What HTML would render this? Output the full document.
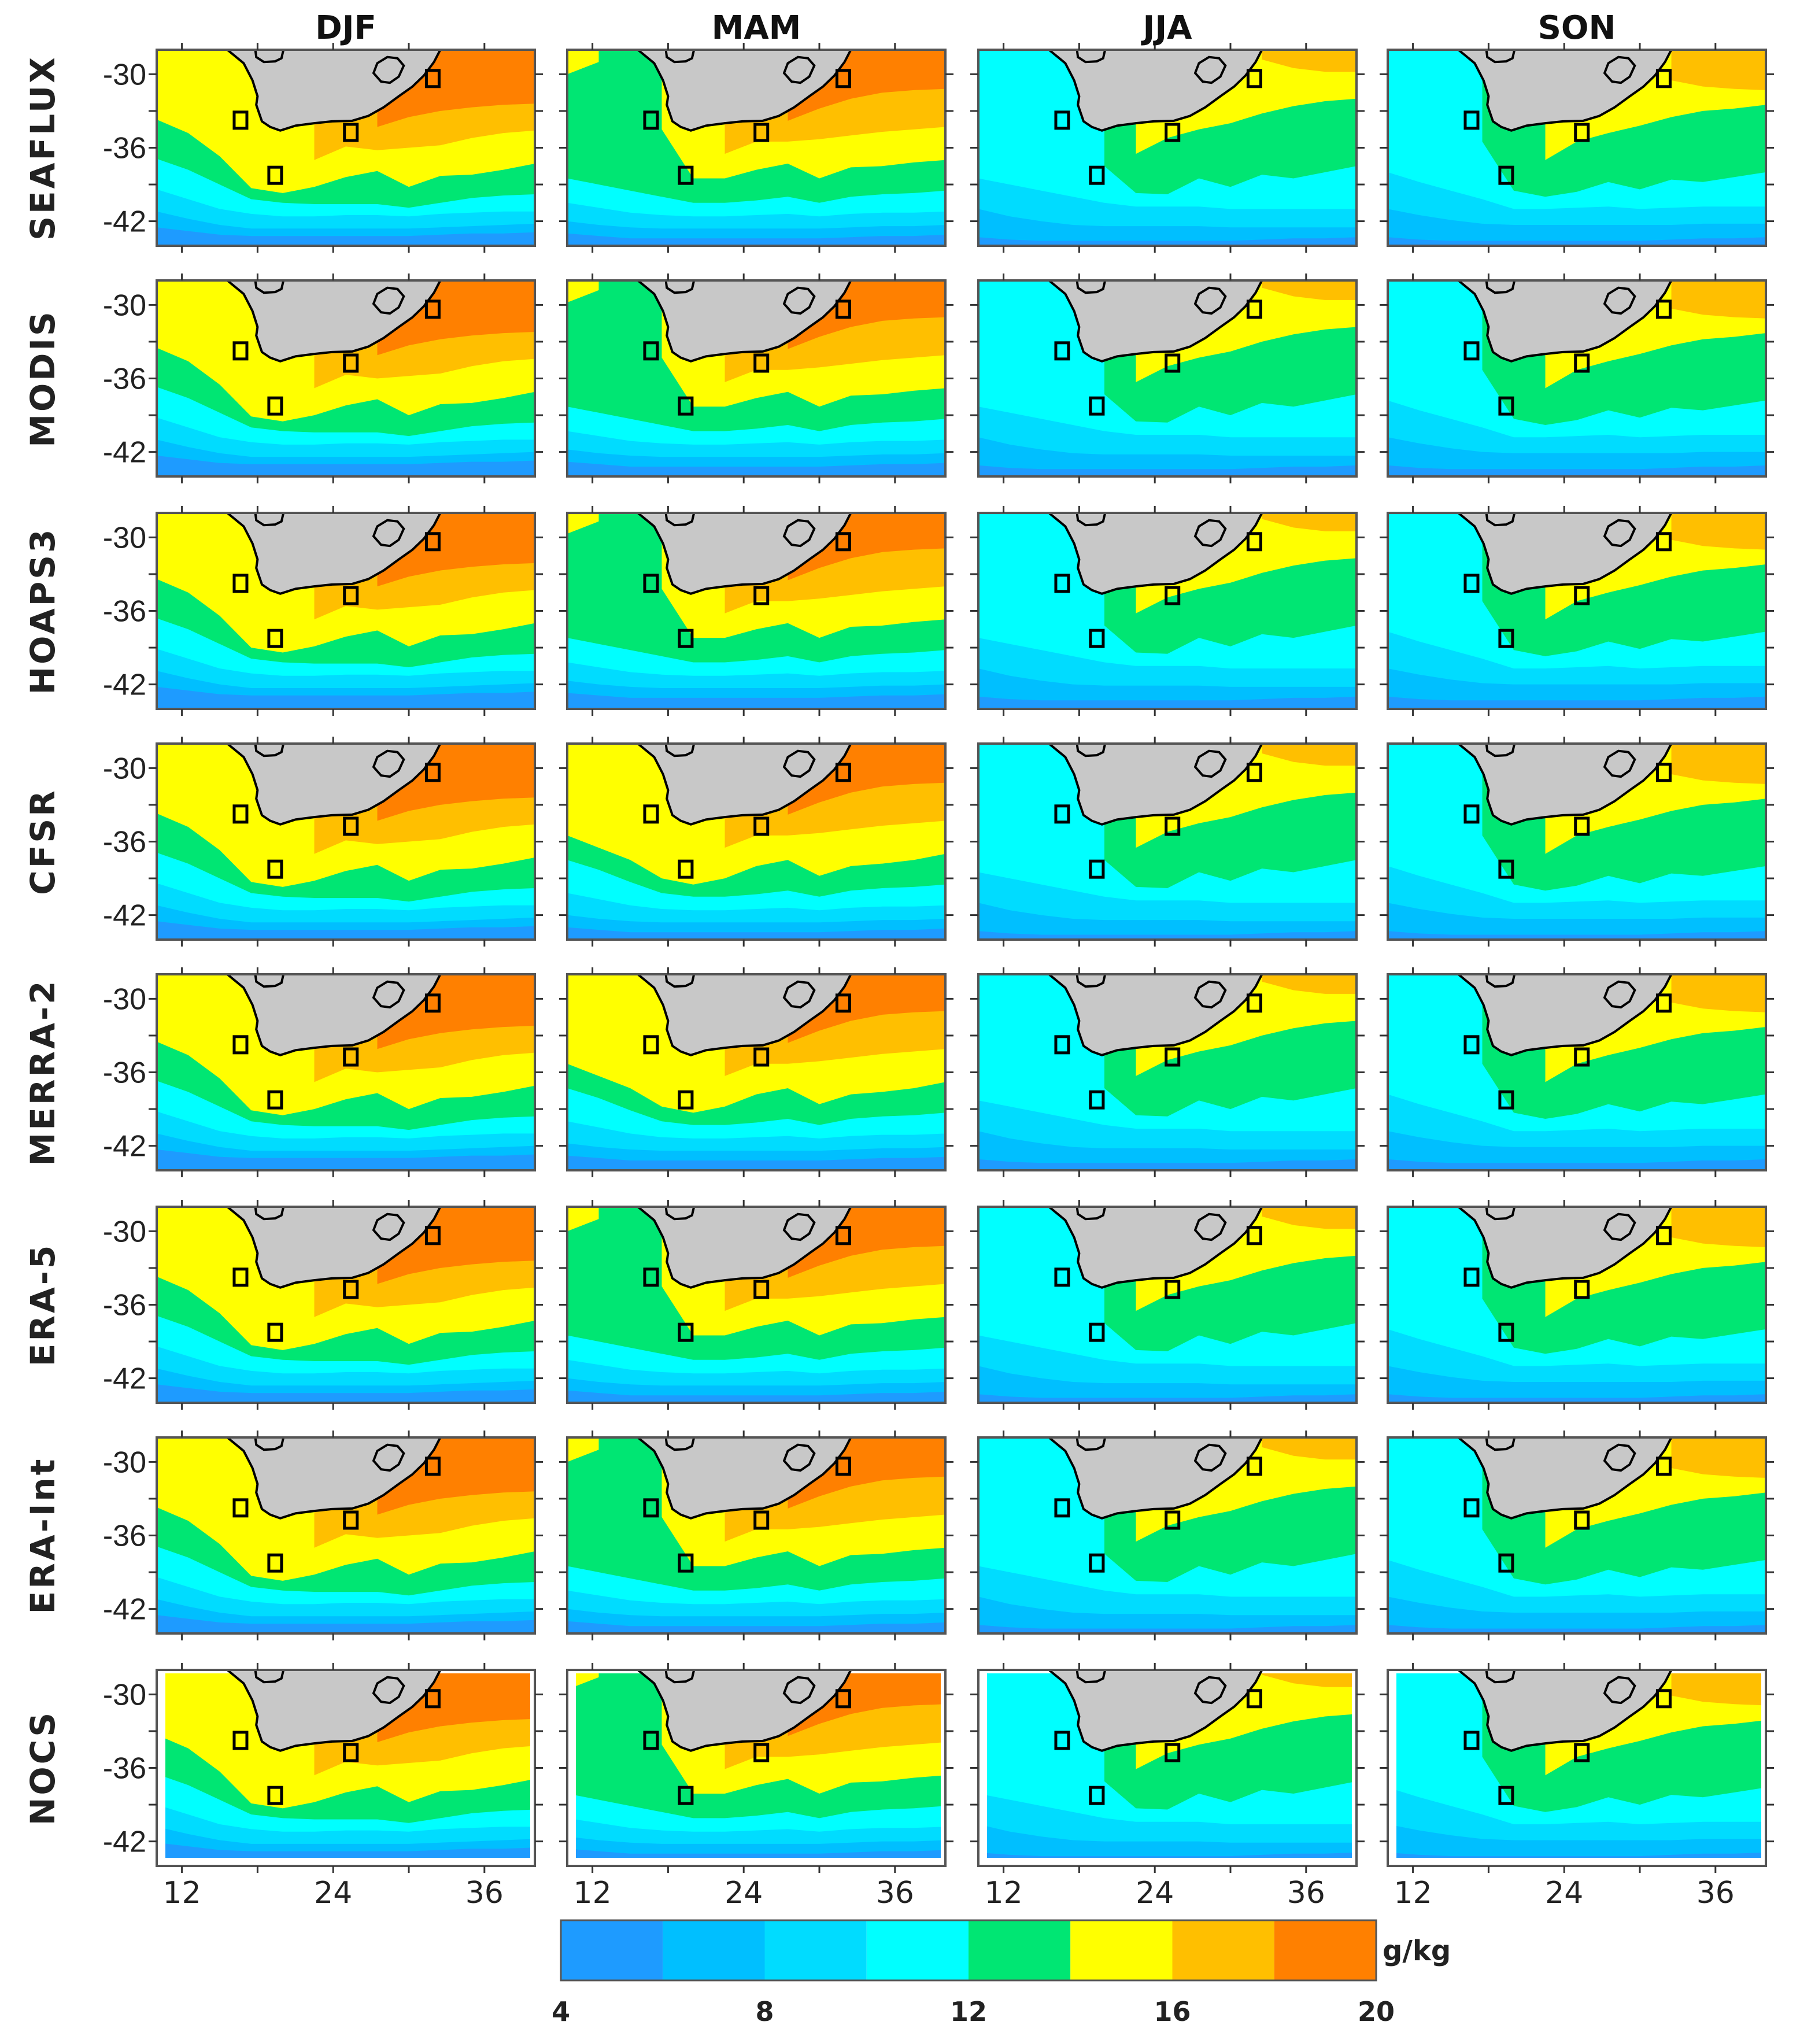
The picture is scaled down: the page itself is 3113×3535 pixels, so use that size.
<!DOCTYPE html>
<html><head><meta charset="utf-8"><style>
html,body{margin:0;padding:0;background:#fff;}
svg{display:block;}
</style></head><body>
<svg id="fig" xmlns="http://www.w3.org/2000/svg" width="3113" height="3535" viewBox="0 0 3113 3535">
<rect width="3113" height="3535" fill="#fff"/>
<defs id="defs"></defs>
<g id="panels"></g>
<g id="labels"></g>
<g id="cbar"></g>
</svg>
<script>
// ---- data ----
const seasons = ["DJF","MAM","JJA","SON"];
const datasets = ["SEAFLUX","MODIS","HOAPS3","CFSR","MERRA-2","ERA-5","ERA-Int","NOCS"];
const lonSamples = [10,12.5,15,17.5,20,22.5,25,27.5,30,32.5,35,37.5,40];
const levels = [6,8,10,12,14,16,18];
const cbarTicks = [4,8,12,16,20];
const cbarLevels = [4,6,8,10,12,14,16,18,20];
// boundary latitudes per level (north of line >= level); -27 = level absent
const djfB = [
 [-42.5,-42.8,-43.1,-43.2,-43.2,-43.2,-43.2,-43.2,-43.2,-43.1,-43.0,-43.0,-42.9],
 [-41.2,-41.8,-42.3,-42.6,-42.6,-42.6,-42.6,-42.6,-42.6,-42.5,-42.4,-42.3,-42.2],
 [-39.4,-40.2,-41.0,-41.4,-41.6,-41.6,-41.5,-41.5,-41.6,-41.4,-41.3,-41.2,-41.2],
 [-36.9,-37.8,-39.0,-40.2,-40.5,-40.6,-40.6,-40.6,-40.9,-40.5,-40.1,-39.9,-39.8],
 [-33.7,-34.8,-36.7,-39.3,-39.7,-39.2,-38.4,-37.9,-39.2,-38.3,-38.2,-37.8,-37.3],
 [-27,-27,-27,-27,-27,-37,-35.9,-36.2,-36,-35.8,-35.2,-34.8,-34.6],
 [-27,-27,-27,-27,-27,-27,-27,-34.3,-33.5,-33,-32.7,-32.5,-32.4]];
const mamB = [
 [-43.0,-43.2,-43.4,-43.4,-43.4,-43.4,-43.4,-43.4,-43.4,-43.3,-43.2,-43.2,-43.1],
 [-42.0,-42.3,-42.5,-42.6,-42.6,-42.6,-42.6,-42.6,-42.6,-42.5,-42.4,-42.4,-42.3],
 [-40.5,-40.9,-41.3,-41.5,-41.6,-41.6,-41.5,-41.4,-41.6,-41.4,-41.3,-41.3,-41.2],
 [-38.5,-39.0,-39.5,-40.0,-40.5,-40.5,-40.3,-40.0,-40.5,-40.0,-39.8,-39.7,-39.5],
 [-30,-29,-27,-34.5,-38.5,-38.5,-37.8,-37.3,-38.5,-37.6,-37.5,-37.2,-37],
 [-27,-27,-27,-27,-27,-36.5,-35.5,-35.5,-35.3,-35,-34.7,-34.5,-34.3],
 [-27,-27,-27,-27,-27,-27,-27,-33.8,-32.8,-32,-31.5,-31.3,-31.2]];
const mamAltB = [
 [-43.0,-43.2,-43.4,-43.4,-43.4,-43.4,-43.4,-43.4,-43.4,-43.3,-43.2,-43.2,-43.1],
 [-42.0,-42.3,-42.5,-42.6,-42.6,-42.6,-42.6,-42.6,-42.6,-42.5,-42.4,-42.4,-42.3],
 [-40.2,-40.7,-41.2,-41.5,-41.6,-41.6,-41.5,-41.4,-41.6,-41.4,-41.3,-41.3,-41.2],
 [-37.5,-38.3,-39.3,-40.2,-40.5,-40.5,-40.3,-40.0,-40.5,-40.0,-39.8,-39.7,-39.5],
 [-35.5,-36.5,-37.5,-39,-39.5,-39,-38,-37.5,-38.8,-38,-37.8,-37.5,-37],
 [-27,-27,-27,-27,-27,-36.5,-35.5,-35.5,-35.3,-35,-34.7,-34.5,-34.3],
 [-27,-27,-27,-27,-27,-27,-27,-33.8,-32.8,-32,-31.5,-31.3,-31.2]];
const jjaB = [
 [-43.3,-43.5,-43.6,-43.6,-43.6,-43.6,-43.6,-43.6,-43.6,-43.5,-43.4,-43.4,-43.3],
 [-41.0,-41.6,-42.0,-42.3,-42.4,-42.4,-42.4,-42.4,-42.5,-42.5,-42.5,-42.5,-42.5],
 [-38.5,-39.0,-39.5,-40.0,-40.5,-40.8,-40.8,-40.8,-41.0,-41.0,-41.0,-41.0,-41.0],
 [-27,-27,-27,-27,-37.5,-39.7,-39.8,-38.5,-39.2,-38.2,-38.5,-38,-37.5],
 [-27,-27,-27,-27,-27,-36.5,-35.2,-34.5,-34,-33.2,-32.6,-32.2,-32],
 [-27,-27,-27,-27,-27,-27,-27,-27,-27,-28.8,-29.5,-29.8,-29.8],
 [-27,-27,-27,-27,-27,-27,-27,-27,-27,-27,-27,-27,-27]];
const sonB = [
 [-43.3,-43.5,-43.6,-43.6,-43.6,-43.6,-43.6,-43.6,-43.6,-43.5,-43.4,-43.4,-43.3],
 [-41.0,-41.5,-41.9,-42.2,-42.3,-42.3,-42.3,-42.3,-42.3,-42.3,-42.2,-42.2,-42.2],
 [-38.0,-38.8,-39.5,-40.2,-41.0,-41.0,-40.9,-40.8,-41.0,-40.9,-40.8,-40.8,-40.8],
 [-27,-27,-27,-35.5,-39.5,-40,-39.6,-38.8,-39.4,-38.6,-38.8,-38.4,-38],
 [-27,-27,-27,-27,-27,-37,-35.5,-34.8,-34.2,-33.5,-33,-32.8,-32.5],
 [-27,-27,-27,-27,-27,-27,-27,-27,-27,-30.5,-31,-31.2,-31.3],
 [-27,-27,-27,-27,-27,-27,-27,-27,-27,-27,-27,-27,-27]];
const seasonData = [djfB, mamB, jjaB, sonB];
const mamAltRows = [3,4];
const rowShift = [0, 0.2, 0.3, 0, 0.2, 0, 0, 0.4];
const xTicks = [12,18,24,30,36];
const xTickLabels = [12,24,36];
const yTicks = [-30,-33,-36,-39,-42];
const yTickLabels = [-30,-36,-42];
const coast = [[15.6,-27.5],[15.6,-28],[16.9,-29.1],[17.6,-30.5],[18,-31.8],[17.9,-32.5],[18.35,-33.85],[19.0,-34.3],[19.8,-34.6],[21,-34.2],[22.5,-34.0],[23.9,-33.85],[25.5,-33.8],[26.8,-33.4],[28,-32.7],[29.2,-31.8],[30.3,-31],[31.2,-30.1],[32.0,-29],[32.5,-28],[32.6,-27.5]];
const lesotho = [[27.2,-29.9],[27.5,-29.1],[28.3,-28.6],[29.1,-28.7],[29.6,-29.3],[29.2,-30.2],[28.5,-30.7],[27.8,-30.6]];
const topOutline = [[17.8,-27.8],[17.9,-28.6],[18.5,-29.0],[19.4,-28.95],[19.9,-28.7],[20.1,-27.8]];
const sites = [[16.65,-33.75],[25.4,-34.75],[19.4,-38.25],[31.9,-30.35]];
// ---- style ----
const colors = ["#1e9bff","#00bfff","#00dcff","#00ffff","#00e673","#ffff00","#ffbf00","#ff8000"];
const colLeft = [271,981,1692,2400];
const rowTop = [86,485,887,1286,1685,2087,2486,2888];
const PW=654, PH=339, LON0=10, LON1=40, LAT0=-28, LAT1=-44;
const NS="http://www.w3.org/2000/svg";
function mk(tag, attrs, parent){const e=document.createElementNS(NS,tag);for(const k in attrs)e.setAttribute(k,attrs[k]);if(parent)parent.appendChild(e);return e;}
function xs(l,lon){return l+(lon-LON0)/(LON1-LON0)*PW;}
function ys(t,lat){return t+(LAT0-lat)/(LAT0-LAT1)*PH;}
const defs=document.getElementById('defs');
const panels=document.getElementById('panels');
const labels=document.getElementById('labels');
for(let r=0;r<datasets.length;r++){
 for(let c=0;c<seasons.length;c++){
  const L=colLeft[c], T=rowTop[r];
  const cp=mk('clipPath',{id:'cp'+r+'_'+c},defs);
  mk('rect',{x:L,y:T,width:PW,height:PH},cp);
  const g=mk('g',{'clip-path':'url(#cp'+r+'_'+c+')'},panels);
  
  
  const base=mk('rect',{x:L,y:T,width:PW,height:PH,fill:colors[0]},g);
  
  
  const B=(c===1 && mamAltRows.includes(r)) ? mamAltB : seasonData[c];
  for(let k=0;k<levels.length;k++){
   const row=B[k];
   let pts=[];
   const n=lonSamples.length;
   const absent=i=>row[i]>-27.5;
   for(let i=0;i<n;i++){
    if(absent(i)){
     pts.push([lonSamples[i],-26]);
     if(i+1<n && !absent(i+1)) pts.push([lonSamples[i+1],-26]);
    } else {
     pts.push([lonSamples[i],row[i]+rowShift[r]]);
     if(i+1<n && absent(i+1)) pts.push([lonSamples[i],-26]);
    }
   }
   pts.push([LON1,-26]);pts.push([LON0,-26]);
   const p=mk('polygon',{points:pts.map(q=>xs(L,q[0]).toFixed(1)+','+ys(T,q[1]).toFixed(1)).join(' '),fill:colors[k+1]},g);
   
   
  }
  if(r===7){
   const w=[[L,T,15,PH],[L,T,PW,6],[L+PW-8,T,8,PH],[L,T+PH-14,PW,14]];
   for(const q of w){const e=mk('rect',{x:q[0],y:q[1],width:q[2],height:q[3],fill:'#fff'},g);
    
    }
  }
  const land=mk('polygon',{points:coast.map(p=>xs(L,p[0]).toFixed(1)+','+ys(T,p[1]).toFixed(1)).join(' '),fill:'#c8c8c8',stroke:'#000','stroke-width':4,'stroke-linejoin':'round'},g);
  
  
  const to=mk('polyline',{points:topOutline.map(p=>xs(L,p[0]).toFixed(1)+','+ys(T,p[1]).toFixed(1)).join(' '),fill:'none',stroke:'#000','stroke-width':4},g);
  
  
  const les=mk('polygon',{points:lesotho.map(p=>xs(L,p[0]).toFixed(1)+','+ys(T,p[1]).toFixed(1)).join(' '),fill:'none',stroke:'#000','stroke-width':4},g);
  
  
  for(const s of sites){
   const e=mk('rect',{x:xs(L,s[0])-11,y:ys(T,s[1])-14,width:22,height:28,fill:'none',stroke:'#000','stroke-width':5},g);
   
   
  }
  const fr=mk('rect',{x:L,y:T,width:PW,height:PH,fill:'none',stroke:'#555','stroke-width':4},panels);
  
  
  for(const t of xTicks){const x=xs(L,t);
   mk('line',{x1:x,y1:T,x2:x,y2:T-12,stroke:'#333','stroke-width':3},panels);
   mk('line',{x1:x,y1:T+PH,x2:x,y2:T+PH+12,stroke:'#333','stroke-width':3},panels);}
  for(const t of yTicks){const y=ys(T,t);
   mk('line',{x1:L,y1:y,x2:L-14,y2:y,stroke:'#333','stroke-width':3},panels);
   mk('line',{x1:L+PW,y1:y,x2:L+PW+14,y2:y,stroke:'#333','stroke-width':3},panels);}
  if(c===0){for(const t of yTickLabels){const e=mk('text',{x:L-18,y:ys(T,t)+18,'text-anchor':'end','font-family':'Liberation Sans, sans-serif','font-size':52,fill:'#222'},labels);
   e.textContent=t;
   
   }}
  if(r===7){for(const t of xTickLabels){const e=mk('text',{x:xs(L,t),y:T+PH+64,'text-anchor':'middle','font-family':'DejaVu Sans, sans-serif','font-size':52,fill:'#222'},labels);
   e.textContent=t;
   
   }}
 }
 const cy=rowTop[r]+PH/2;
 const rl=mk('text',{x:0,y:0,transform:'translate(94,'+cy+') rotate(-90)','text-anchor':'middle','font-family':'DejaVu Sans, sans-serif','font-weight':'bold','font-size':58,'letter-spacing':4,fill:'#222'},labels);
 rl.textContent=datasets[r];
 
 
}
for(let c=0;c<seasons.length;c++){
 const e=mk('text',{x:colLeft[c]+PW/2,y:67,'text-anchor':'middle','font-family':'DejaVu Sans, sans-serif','font-weight':'bold','font-size':56,fill:'#111'},labels);
 e.textContent=seasons[c];
 
 
}
// colorbar
const cb=document.getElementById('cbar');
const CB0=970, CB1=2380, CBT=3321, CBH=104;
function cx(v){return CB0+(v-cbarLevels[0])/(cbarLevels[cbarLevels.length-1]-cbarLevels[0])*(CB1-CB0);}
for(let i=0;i<cbarLevels.length-1;i++){
 const e=mk('rect',{x:cx(cbarLevels[i]),y:CBT,width:cx(cbarLevels[i+1])-cx(cbarLevels[i]),height:CBH,fill:colors[i]},cb);
 
 
}
mk('rect',{x:CB0,y:CBT,width:CB1-CB0,height:CBH,fill:'none',stroke:'#555','stroke-width':3},cb);
for(const t of cbarTicks){const e=mk('text',{x:cx(t),y:3495,'text-anchor':'middle','font-family':'DejaVu Sans, sans-serif','font-weight':'bold','font-size':46,fill:'#222'},cb);
 e.textContent=t;
 
 }
const u=mk('text',{x:2391,y:3390,'font-family':'DejaVu Sans, sans-serif','font-weight':'bold','font-size':48,fill:'#222'},cb);
u.textContent='g/kg';


</script>
</body></html>
